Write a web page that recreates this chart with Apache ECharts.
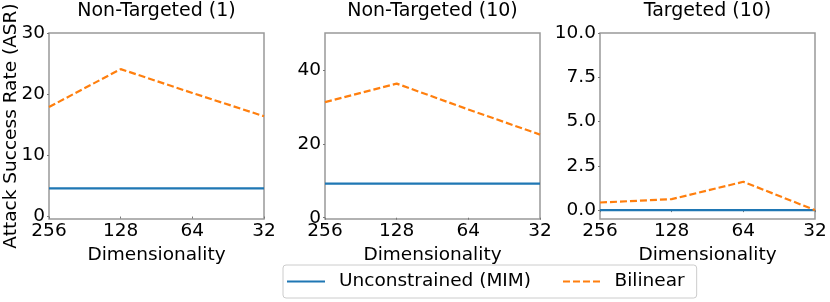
<!DOCTYPE html>
<html>
<head>
<meta charset="utf-8">
<script src="https://cdn.jsdelivr.net/npm/echarts@6/dist/echarts.min.js"></script>
<style>
html,body{margin:0;padding:0;background:#fff;}
#c{width:830px;height:302px;}
</style>
</head>
<body>
<div id="c"></div>
<script>
const categories = ['256', '128', '64', '32'];
const titles = ['Non-Targeted (1)', 'Non-Targeted (10)', 'Targeted (10)'];
const mim1 = [4.6, 4.6, 4.6, 4.6];
const bil1 = [17.9, 24.1, 20.2, 16.4];
const mim2 = [9.25, 9.25, 9.25, 9.25];
const bil2 = [31.3, 36.3, 29.3, 22.5];
const mim3 = [0, 0, 0, 0];
const bil3 = [0.43, 0.62, 1.6, 0.0];
const yTicks1 = [0, 10, 20, 30];
const yTicks2 = [0, 20, 40];
const yTicks3 = [0, 2.5, 5, 7.5, 10];
const yRanges = [[-0.4, 30], [-0.35, 50], [-0.5, 10]];

const FONT = 'DejaVu Sans';
const grids = [
  {left: 49, top: 33, width: 215, height: 186},
  {left: 325, top: 33, width: 215, height: 186},
  {left: 600, top: 33, width: 215, height: 186}
];
const yTickSets = [yTicks1, yTicks2, yTicks3];
const mims = [mim1, mim2, mim3];
const bils = [bil1, bil2, bil3];

const option = {
  animation: false,
  backgroundColor: '#fff',
  textStyle: {fontFamily: FONT},
  title: grids.map((g, i) => ({
    text: titles[i],
    left: g.left + g.width / 2,
    textAlign: 'center',
    top: 2,
    padding: 0,
    textStyle: {fontFamily: FONT, fontSize: 19, fontWeight: 'normal', color: '#000'}
  })),
  graphic: [{
    type: 'text',
    x: 11, y: 126,
    rotation: Math.PI / 2,
    style: {
      text: 'Attack Success Rate (ASR)',
      fontFamily: FONT, fontSize: 18.5, fill: '#000',
      textAlign: 'center', textVerticalAlign: 'middle'
    }
  }],
  grid: grids.map(g => Object.assign({show: true, borderColor: '#999', borderWidth: 1.5, backgroundColor: 'transparent'}, g)),
  xAxis: grids.map((g, i) => ({
    type: 'category',
    gridIndex: i,
    data: categories,
    boundaryGap: false,
    name: 'Dimensionality',
    nameLocation: 'middle',
    nameGap: 18,
    nameTextStyle: {fontFamily: FONT, fontSize: 18.5, color: '#000'},
    axisLine: {show: false},
    axisTick: {show: true, length: 2, inside: false, lineStyle: {color: '#777'}},
    axisLabel: {fontFamily: FONT, fontSize: 18.5, color: '#000', margin: 3, interval: 0},
    splitLine: {show: false}
  })),
  yAxis: grids.map((g, i) => ({
    type: 'value',
    gridIndex: i,
    min: yRanges[i][0],
    max: yRanges[i][1],
    axisLine: {show: false},
    axisTick: {show: true, length: 2, customValues: yTickSets[i], lineStyle: {color: '#777'}},
    axisLabel: {
      fontFamily: FONT, fontSize: 18.5, color: '#000', margin: 4,
      customValues: yTickSets[i],
      formatter: v => i === 2 ? Number(v).toFixed(1) : String(Math.round(v))
    },
    splitLine: {show: false}
  })),
  legend: {
    left: 283, top: 265,
    padding: [7, 12, 7, 4],
    itemGap: 32,
    itemWidth: 38,
    itemHeight: 2,
    borderColor: '#ccc',
    borderWidth: 1,
    borderRadius: 3,
    backgroundColor: '#fff',
    textStyle: {fontFamily: FONT, fontSize: 18.5, color: '#000', padding: [0, 0, 0, 9]},
    data: [
      {name: 'Unconstrained (MIM)', icon: 'path://M0,0 L38,0 L38,2 L0,2 Z', itemStyle: {color: '#1f77b4'}},
      {name: 'Bilinear', icon: 'path://M0,0 L7,0 L7,2 L0,2 Z M10,0 L17,0 L17,2 L10,2 Z M20,0 L27,0 L27,2 L20,2 Z M30,0 L37,0 L37,2 L30,2 Z', itemStyle: {color: '#ff7f0e'}}
    ]
  },
  series: []
};

for (let i = 0; i < 3; i++) {
  option.series.push({
    name: 'Unconstrained (MIM)', type: 'line', xAxisIndex: i, yAxisIndex: i,
    data: mims[i], symbol: 'none', showSymbol: false,
    lineStyle: {color: '#1f77b4', width: 2.2}, itemStyle: {color: '#1f77b4'}, z: 3
  });
  option.series.push({
    name: 'Bilinear', type: 'line', xAxisIndex: i, yAxisIndex: i,
    data: bils[i], symbol: 'none', showSymbol: false,
    lineStyle: {color: '#ff7f0e', width: 2.2, type: [7, 3]}, itemStyle: {color: '#ff7f0e'}, z: 4
  });
}

const chart = echarts.init(document.getElementById('c'), null, {renderer: 'canvas'});
chart.setOption(option);
</script>
</body>
</html>
